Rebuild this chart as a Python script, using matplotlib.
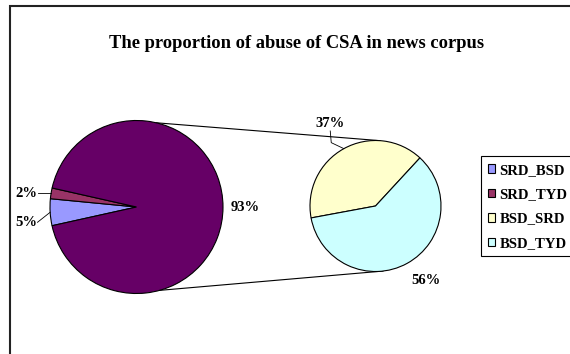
import numpy as np
import matplotlib
matplotlib.use("Agg")
import matplotlib.pyplot as plt
from matplotlib.patches import Patch

# ---- data ----
categories = ["SRD_BSD", "SRD_TYD", "BSD_SRD", "BSD_TYD"]
values = [5, 2, 37, 56]          # percent of whole corpus
title = "The proportion of abuse of CSA in news corpus"

colors = ["#9999FF", "#993366", "#FFFFCC", "#CCFFFF"]
other_color = "#660066"

main_vals = values[:2] + [sum(values[2:])]
main_labels = [f"{v}%" for v in main_vals]
sub_vals = values[2:]
sub_labels = [f"{v}%" for v in sub_vals]

W, H = 570, 354
fig = plt.figure(figsize=(W / 100, H / 100), dpi=100)
ax = fig.add_axes([0, 0, 1, 1])
plt.rcParams["font.family"] = ["Liberation Serif", "DejaVu Serif"]
FONT = ["Liberation Serif", "DejaVu Serif"]

c1 = np.array([136.5, H - 207.0]); r1 = 86.5
c2 = np.array([375.5, H - 206.0]); r2 = 65.5

wp = dict(edgecolor="black", linewidth=0.8)
w1, _ = ax.pie(main_vals, colors=colors[:2] + [other_color], startangle=192.5,
               counterclock=False, center=tuple(c1), radius=r1,
               wedgeprops=wp, frame=True)
w2, _ = ax.pie(sub_vals, colors=colors[2:], startangle=190.5,
               counterclock=False, center=tuple(c2), radius=r2,
               wedgeprops=wp, frame=True)

def pt(c, r, ang):
    a = np.deg2rad(ang)
    return c + r * np.array([np.cos(a), np.sin(a)])

# connector lines between pies
for a1, a2 in [(76.8, 86.0), (-74.5, -83.5)]:
    p, q = pt(c1, r1, a1), pt(c2, r2, a2)
    ax.plot([p[0], q[0]], [p[1], q[1]], color="black", lw=0.8, zorder=0)

def mid(w):
    return (w.theta1 + w.theta2) / 2

lab_kw = dict(fontsize=10.5, fontweight="bold", family=FONT, color="black")

# main pie labels
p = pt(c1, r1 * 1.24, mid(w1[2]))
ax.text(p[0] + 1, p[1], main_labels[2], ha="center", va="center", **lab_kw)
for w, lab, dy in [(w1[0], main_labels[0], -10), (w1[1], main_labels[1], 0)]:
    e = pt(c1, r1, mid(w))
    tx, ty = c1[0] - 110, e[1] + dy
    ax.plot([e[0], tx + 11], [e[1], ty], color="black", lw=0.6)
    ax.text(tx, ty, lab, ha="center", va="center", **lab_kw)

# sub pie labels
e = pt(c2, r2, mid(w2[0]))
lp = pt(c2, r2 * 1.43, mid(w2[0]))
ax.plot([e[0], lp[0] + 1, lp[0]], [e[1], e[1] + 6, lp[1] - 7], color="black", lw=0.6)
ax.text(lp[0], lp[1], sub_labels[0], ha="center", va="center", **lab_kw)
lp = pt(c2, r2 * 1.37, mid(w2[1]) + 5)
ax.text(lp[0], lp[1], sub_labels[1], ha="center", va="center", **lab_kw)

# title
ax.text(296.5, H - 43, title, ha="center", va="center", fontsize=13.3,
        fontweight="bold", family=FONT)

# chart border (cropped)
ax.plot([9.5, 9.5, 600], [-20, H - 5.5, H - 5.5], color="#222222", lw=1.5,
        solid_joinstyle="miter", clip_on=False)

# legend (frame drawn separately, extends past the right edge)
handles = [Patch(facecolor=c, edgecolor="black", linewidth=0.8) for c in colors]
leg = ax.legend(handles, categories, loc="upper left",
                bbox_to_anchor=(481, H - 157), bbox_transform=ax.transData,
                frameon=False,
                prop=dict(family=FONT, weight="bold", size=10.6),
                handlelength=0.5, handleheight=0.5, handletextpad=0.3,
                labelspacing=0.78, borderpad=0.45, borderaxespad=0)
ax.plot([600, 481, 481, 600], [H - 156, H - 156, H - 256, H - 256],
        color="black", lw=0.8, solid_joinstyle="miter")

ax.set_xlim(0, W)
ax.set_ylim(0, H)
ax.set_aspect("auto")
ax.axis("off")
fig.savefig("out.png", dpi=100)
